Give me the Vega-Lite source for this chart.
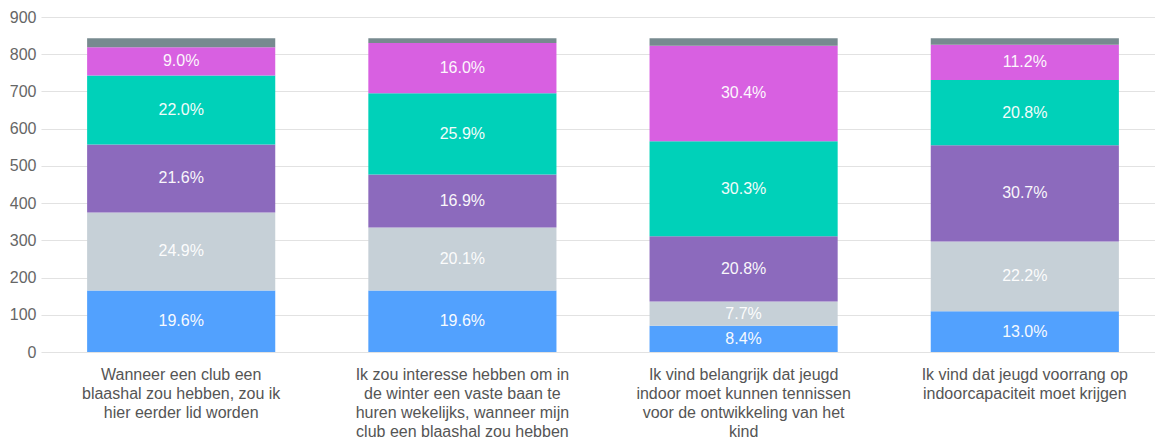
{
  "$schema": "https://vega.github.io/schema/vega-lite/v6.json",
  "width": 1124,
  "height": 335,
  "autosize": {"type": "none"},
  "padding": {"left": 41, "top": 17, "right": 0, "bottom": 91},
  "config": {
    "view": {"stroke": null},
    "font": "Liberation Sans",
    "axis": {"labelFont": "Liberation Sans", "labelColor": "#666666", "labelFontSize": 16},
    "axisY": {"values": [0,100,200,300,400,500,600,700,800,900], "labelOverlap": false, "domain": false, "ticks": false, "labelPadding": 5, "gridColor": "#e2e2e2", "gridWidth": 1.2, "labelColor": "#666666"}
  },
  "data": {
    "values": [
      {"q": "Wanneer een club een|blaashal zou hebben, zou ik|hier eerder lid worden", "s": "a", "o": 1, "v": 165.2, "lab": "19.6%"},
      {"q": "Wanneer een club een|blaashal zou hebben, zou ik|hier eerder lid worden", "s": "b", "o": 2, "v": 209.9, "lab": "24.9%"},
      {"q": "Wanneer een club een|blaashal zou hebben, zou ik|hier eerder lid worden", "s": "c", "o": 3, "v": 182.1, "lab": "21.6%"},
      {"q": "Wanneer een club een|blaashal zou hebben, zou ik|hier eerder lid worden", "s": "d", "o": 4, "v": 185.5, "lab": "22.0%"},
      {"q": "Wanneer een club een|blaashal zou hebben, zou ik|hier eerder lid worden", "s": "e", "o": 5, "v": 75.9, "lab": "9.0%"},
      {"q": "Wanneer een club een|blaashal zou hebben, zou ik|hier eerder lid worden", "s": "f", "o": 6, "v": 24.4, "lab": ""},
      {"q": "Ik zou interesse hebben om in|de winter een vaste baan te|huren wekelijks, wanneer mijn|club een blaashal zou hebben", "s": "a", "o": 1, "v": 165.2, "lab": "19.6%"},
      {"q": "Ik zou interesse hebben om in|de winter een vaste baan te|huren wekelijks, wanneer mijn|club een blaashal zou hebben", "s": "b", "o": 2, "v": 169.4, "lab": "20.1%"},
      {"q": "Ik zou interesse hebben om in|de winter een vaste baan te|huren wekelijks, wanneer mijn|club een blaashal zou hebben", "s": "c", "o": 3, "v": 142.5, "lab": "16.9%"},
      {"q": "Ik zou interesse hebben om in|de winter een vaste baan te|huren wekelijks, wanneer mijn|club een blaashal zou hebben", "s": "d", "o": 4, "v": 218.3, "lab": "25.9%"},
      {"q": "Ik zou interesse hebben om in|de winter een vaste baan te|huren wekelijks, wanneer mijn|club een blaashal zou hebben", "s": "e", "o": 5, "v": 134.9, "lab": "16.0%"},
      {"q": "Ik zou interesse hebben om in|de winter een vaste baan te|huren wekelijks, wanneer mijn|club een blaashal zou hebben", "s": "f", "o": 6, "v": 12.6, "lab": ""},
      {"q": "Ik vind belangrijk dat jeugd|indoor moet kunnen tennissen|voor de ontwikkeling van het|kind", "s": "a", "o": 1, "v": 70.8, "lab": "8.4%"},
      {"q": "Ik vind belangrijk dat jeugd|indoor moet kunnen tennissen|voor de ontwikkeling van het|kind", "s": "b", "o": 2, "v": 64.9, "lab": "7.7%"},
      {"q": "Ik vind belangrijk dat jeugd|indoor moet kunnen tennissen|voor de ontwikkeling van het|kind", "s": "c", "o": 3, "v": 175.3, "lab": "20.8%"},
      {"q": "Ik vind belangrijk dat jeugd|indoor moet kunnen tennissen|voor de ontwikkeling van het|kind", "s": "d", "o": 4, "v": 255.4, "lab": "30.3%"},
      {"q": "Ik vind belangrijk dat jeugd|indoor moet kunnen tennissen|voor de ontwikkeling van het|kind", "s": "e", "o": 5, "v": 256.3, "lab": "30.4%"},
      {"q": "Ik vind belangrijk dat jeugd|indoor moet kunnen tennissen|voor de ontwikkeling van het|kind", "s": "f", "o": 6, "v": 20.2, "lab": ""},
      {"q": "Ik vind dat jeugd voorrang op|indoorcapaciteit moet krijgen", "s": "a", "o": 1, "v": 109.6, "lab": "13.0%"},
      {"q": "Ik vind dat jeugd voorrang op|indoorcapaciteit moet krijgen", "s": "b", "o": 2, "v": 187.1, "lab": "22.2%"},
      {"q": "Ik vind dat jeugd voorrang op|indoorcapaciteit moet krijgen", "s": "c", "o": 3, "v": 258.8, "lab": "30.7%"},
      {"q": "Ik vind dat jeugd voorrang op|indoorcapaciteit moet krijgen", "s": "d", "o": 4, "v": 175.3, "lab": "20.8%"},
      {"q": "Ik vind dat jeugd voorrang op|indoorcapaciteit moet krijgen", "s": "e", "o": 5, "v": 94.4, "lab": "11.2%"},
      {"q": "Ik vind dat jeugd voorrang op|indoorcapaciteit moet krijgen", "s": "f", "o": 6, "v": 17.7, "lab": ""}
    ]
  },
  "transform": [
    {"stack": "v", "groupby": ["q"], "sort": [{"field": "o", "order": "ascending"}], "as": ["y0", "y1"]},
    {"calculate": "(datum.y0 + datum.y1) / 2", "as": "ym"}
  ],
  "encoding": {
    "x": {
      "field": "q", "type": "nominal", "sort": null, "title": null,
      "scale": {"paddingInner": 0.331, "paddingOuter": 0.164},
      "axis": {"labelAngle": 0, "domain": false, "ticks": false, "labelPadding": 14, "labelLineHeight": 19, "labelExpr": "split(datum.label, '|')", "labelColor": "#555555", "labelLimit": 300}
    }
  },
  "layer": [
    {
      "mark": {"type": "bar"},
      "encoding": {
        "y": {"field": "y0", "type": "quantitative", "scale": {"domain": [0, 900]}, "title": null},
        "y2": {"field": "y1"},
        "color": {"field": "s", "type": "nominal", "legend": null,
          "scale": {"domain": ["a","b","c","d","e","f"], "range": ["#52a1fe", "#c6d0d7", "#8c6abd", "#00d1b9", "#d860e1", "#778a8f"]}}
      }
    },
    {
      "mark": {"type": "text", "color": "#ffffff", "fontSize": 16, "baseline": "middle", "opacity": 0.95},
      "encoding": {
        "y": {"field": "ym", "type": "quantitative", "title": null},
        "text": {"field": "lab"}
      }
    }
  ]
}
